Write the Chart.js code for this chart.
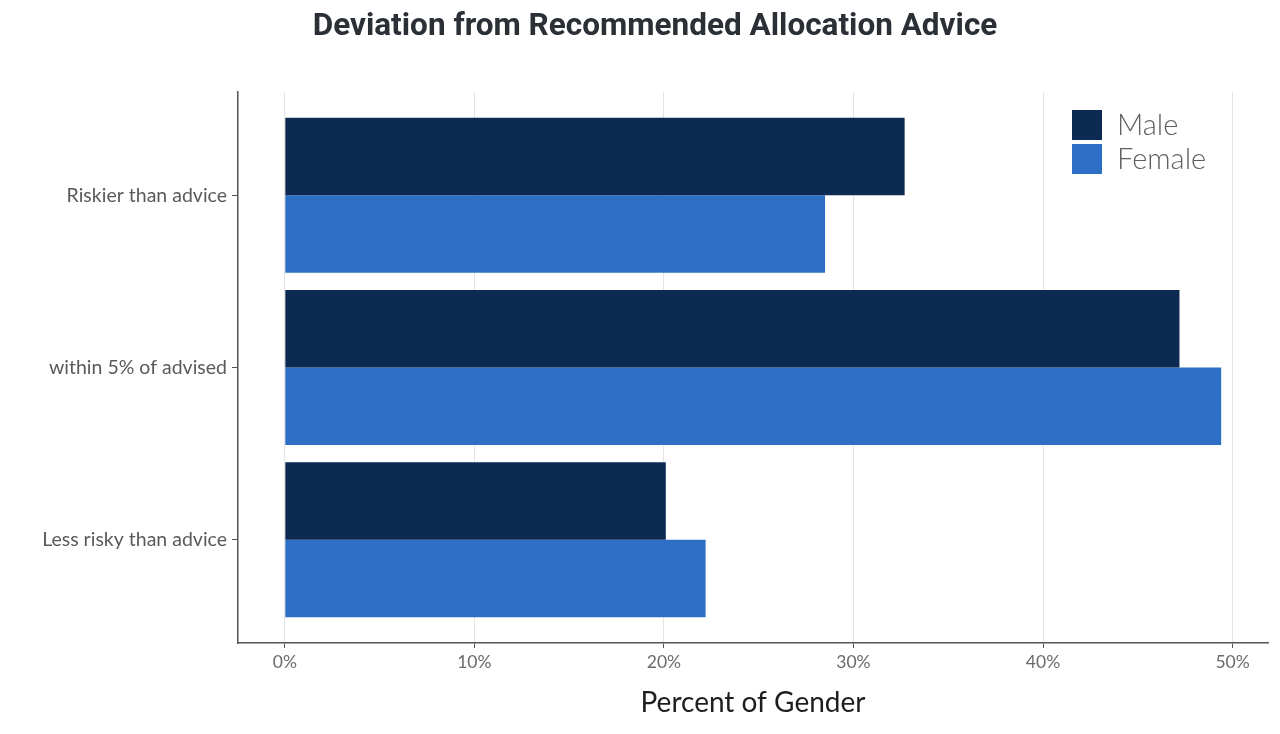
<!DOCTYPE html>
<html>
<head>
<meta charset="utf-8">
<script src="https://cdn.jsdelivr.net/npm/chart.js@4.4.1/dist/chart.umd.min.js"></script>
<style>
  html, body { margin: 0; padding: 0; background: #fff; }
  #wrap { width: 1280px; height: 734px; position: relative; }
</style>
</head>
<body>
<div id="wrap"><canvas id="allocChart"></canvas></div>
<script>
// Chart data
const categories = ['Riskier than advice', 'within 5% of advised', 'Less risky than advice'];
const maleValues = [32.7, 47.2, 20.1];
const femaleValues = [28.5, 49.4, 22.2];
const xTicks = [0, 10, 20, 30, 40, 50];

const MALE_COLOR = '#0d2a52';
const FEMALE_COLOR = '#2d6fc4';

// categories sit at 1..n on a linear axis so the padding can match ggplot's 0.6 expansion
const toPoints = (vals) => vals.map((v, i) => ({ x: v, y: i + 1 }));

// legend drawn inside the plot, top right
const insideLegend = {
    id: 'insideLegend',
    afterDraw(chart) {
        const { ctx, chartArea } = chart;
        const left = chartArea.right - 196;
        let top = chartArea.top + 18;
        ctx.save();
        ctx.font = '300 29px Lato, "Noto Sans", sans-serif';
        ctx.textBaseline = 'middle';
        chart.data.datasets.forEach(ds => {
            ctx.fillStyle = ds.backgroundColor;
            ctx.fillRect(left, top, 30, 30);
            ctx.fillStyle = '#5f5f5f';
            ctx.fillText(ds.label, left + 45, top + 16);
            top += 34;
        });
        ctx.restore();
    }
};

new Chart(document.getElementById('allocChart').getContext('2d'), {
    type: 'bar',
    data: {
        datasets: [
            { label: 'Male', data: toPoints(maleValues), backgroundColor: MALE_COLOR },
            { label: 'Female', data: toPoints(femaleValues), backgroundColor: FEMALE_COLOR }
        ]
    },
    options: {
        indexAxis: 'y',
        responsive: true,
        maintainAspectRatio: false,
        animation: false,
        categoryPercentage: 0.9,
        barPercentage: 1,
        layout: { padding: { left: 42, right: 12, top: 0, bottom: 0 } },
        plugins: {
            legend: { display: false },
            tooltip: { enabled: false },
            title: {
                display: true,
                text: 'Deviation from Recommended Allocation Advice',
                color: '#2b2f36',
                font: { family: 'Roboto', size: 31.5, weight: '700' },
                padding: { top: 8, bottom: 46.2 }
            }
        },
        scales: {
            x: {
                type: 'linear',
                min: -2.47,
                max: 51.87,
                afterBuildTicks: (scale) => { scale.ticks = xTicks.map(v => ({ value: v })); },
                afterFit: (scale) => { scale.height = 91; },
                border: { display: true, color: '#555', width: 1.5 },
                grid: { color: '#e4e4e4', lineWidth: 1, tickColor: '#555', tickLength: 5 },
                ticks: {
                    color: '#6b6b6b',
                    padding: 4,
                    font: { family: 'Lato', size: 17.5 },
                    callback: (v) => v + '%'
                },
                title: {
                    display: true,
                    text: 'Percent of Gender',
                    color: '#1e1e1e',
                    font: { family: 'Lato', size: 28 },
                    padding: { top: 0, bottom: 14 }
                }
            },
            y: {
                type: 'linear',
                reverse: true,
                offset: false,
                min: 0.4,
                max: 3.6,
                afterBuildTicks: (scale) => { scale.ticks = categories.map((c, i) => ({ value: i + 1 })); },
                afterFit: (scale) => { scale.width = 196; },
                border: { display: true, color: '#555', width: 1.5 },
                grid: { offset: false, drawOnChartArea: false, color: '#555', tickLength: 6 },
                ticks: {
                    color: '#5a5a5a',
                    padding: 5,
                    font: { family: 'Lato', size: 19.5 },
                    callback: (v) => categories[Math.round(v) - 1] || ''
                }
            }
        }
    },
    plugins: [insideLegend]
});
</script>
</body>
</html>
